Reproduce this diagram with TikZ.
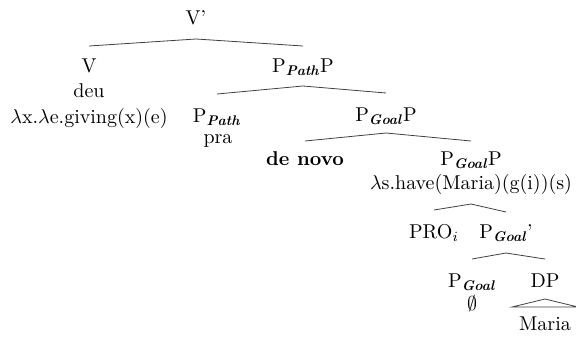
\documentclass[tikz,border=0pt]{standalone}
\usepackage{amsmath}
\usepackage{amssymb}
\usepackage{tikz}

\tikzset{
  lbl/.style={inner sep=0pt, anchor=base},
  branch/.style={draw, line width=0.4pt, black!75}
}
\newcommand{\Pth}{P$_{\textbf{\textit{Path}}}$}
\newcommand{\Gl}{P$_{\textbf{\textit{Goal}}}$}

\begin{document}
\begin{tikzpicture}[x=0.5pt,y=-0.5pt]
        \useasboundingbox (0,0) rectangle (576,337);
        \node[lbl] (vbar) at (196,25) {V'};
        \node[lbl] (v) at (89,72) {V};
        \node[lbl] (v-word) at (89,97) {deu};
        \node[lbl] (v-sem) at (89,123) {$\lambda$x.$\lambda$e.giving(x)(e)};
        \node[lbl] (ppathp) at (303,72) {\Pth P};
        \node[lbl] (ppath) at (217,122) {\Pth};
        \node[lbl] (ppath-word) at (218,143) {pra};
        \node[lbl] (pgoalp) at (386,121) {\Gl P};
        \node[lbl] (denovo) at (305,165) {\textbf{de novo}};
        \node[lbl] (pgoalp2) at (471,165) {\Gl P};
        \node[lbl] (pgoalp2-sem) at (471,189) {$\lambda$s.have(Maria)(g(i))(s)};
        \node[lbl] (pro) at (434,238) {PRO$_i$};
        \node[lbl] (pgoalbar) at (506,238) {\Gl'};
        \node[lbl] (pgoal) at (472,287) {\Gl};
        \node[lbl] (pgoal-word) at (472,310) {$\emptyset$};
        \node[lbl] (dp) at (545,287) {DP};
        \node[lbl] (maria) at (545,330) {Maria};
        \path[branch] ([yshift=-7pt]vbar.base) edge ([yshift=13pt]v.base) edge ([yshift=13pt]ppathp.base);
        \path[branch] ([yshift=-7pt]ppathp.base) edge ([yshift=14pt]ppath.base) edge ([yshift=14pt]pgoalp.base);
        \path[branch] ([yshift=-6pt]pgoalp.base) edge ([yshift=12pt]denovo.base) edge ([yshift=12pt]pgoalp2.base);
        \path[branch] ([yshift=-7.5pt]pgoalp2-sem.base) edge ([yshift=14pt]pro.base) edge ([yshift=13pt]pgoalbar.base);
        \path[branch] ([yshift=-7.5pt]pgoalbar.base) edge ([yshift=14pt]pgoal.base) edge ([yshift=14pt]dp.base);
        \path[branch] ([yshift=-6pt]dp.base) -- ([xshift=-16.5pt,yshift=11.5pt]maria.base) -- ([xshift=16.5pt,yshift=11.5pt]maria.base) -- cycle;
    \end{tikzpicture}
\end{document}
